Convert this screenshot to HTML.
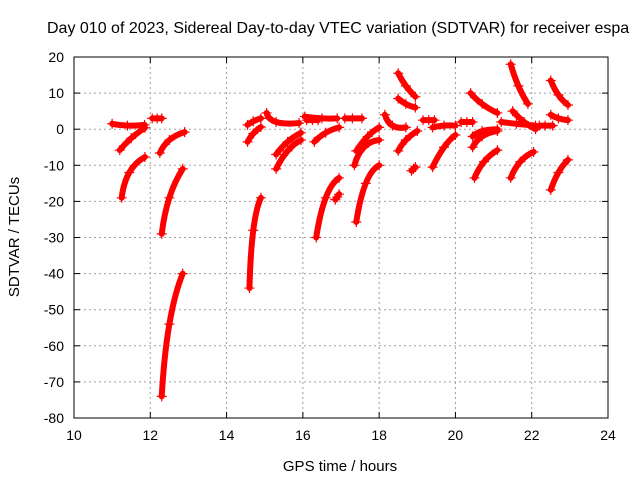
<!DOCTYPE html>
<html><head><meta charset="utf-8"><style>
html,body{margin:0;padding:0;background:#fff;}
svg{display:block;font-family:"Liberation Sans",sans-serif;}
</style></head><body>
<svg id="c" width="640" height="480"></svg>
<script>
const xTicks=[10,12,14,16,18,20,22,24];
const yTicks=[20,10,0,-10,-20,-30,-40,-50,-60,-70,-80];
const arcT=[
[11.0,11.4,11.85],[11.2,11.5,11.86],[11.25,11.45,11.86],[12.05,12.18,12.3],
[12.25,12.5,12.9],[12.3,12.5,12.85],[12.3,12.5,12.85],
[14.55,14.7,14.9],[14.55,14.7,14.9],[14.6,14.7,14.9],
[15.05,15.3,15.9],[15.3,15.6,15.95],[15.3,15.6,15.95],[16.1,16.25,16.4],
[16.05,16.5,16.9],[16.3,16.6,16.95],[17.1,17.3,17.55],[17.35,17.6,18.0],[17.4,17.7,18.0],
[16.35,16.6,16.95],[16.85,16.9,16.95],[17.4,17.65,18.0],
[18.5,18.7,18.95],[18.5,18.7,18.95],[18.15,18.35,18.7],[18.5,18.7,19.0],[18.85,18.9,18.95],
[19.15,19.3,19.45],[19.4,19.7,20.0],[19.4,19.7,20.0],[20.15,20.3,20.45],
[20.4,20.7,21.1],[20.45,20.7,21.1],[20.45,20.7,21.1],[20.5,20.75,21.1],
[21.45,21.65,21.9],[21.2,21.6,22.1],[21.5,21.8,22.1],[22.2,22.35,22.55],[21.45,21.7,22.05],
[22.5,22.7,22.95],[22.5,22.7,22.95],[22.5,22.7,22.95]
];
const arcV=[
[1.5,1.0,1.2],[-5.8,-2.5,0.4],[-19,-12,-7.7],[3,3,3],
[-6.6,-3,-0.8],[-29,-19,-11],[-74,-54,-40],
[1.2,2.2,3],[-3.5,-1.2,0.6],[-44,-28,-19],
[4.5,2,1.7],[-11,-6,-3],[-7,-3.5,-1],[2.5,2.5,2.5],
[3.5,3,3],[-3.5,-1,0.5],[3,3,3],[-10,-5,-3],[-6,-2,0.5],
[-30,-19,-13.5],[-19.5,-18.8,-18],[-25.7,-15,-10],
[15.5,12,9],[8.5,7,6],[4,1,0.5],[-6,-3,-0.5],[-11.5,-11,-10.5],
[2.5,2.5,2.5],[0.5,1,1],[-10.5,-5,-1.6],[2,2,2],
[10,7,4.5],[-5,-2,-0.5],[-2,-0.5,0],[-13.5,-9,-5.8],
[18,12,7],[2,1.5,1],[5,2,0],[1,1,1],[-13.5,-9,-6.3],
[13.5,9.5,6.7],[4,3,2.5],[-16.8,-12,-8.5]
];
const L=74,R=608,T=57,B=418;
const xs=t=>L+(t-10)*(R-L)/14;
const ys=v=>T+(20-v)*(B-T)/100;
const NS="http://www.w3.org/2000/svg";
const svg=document.getElementById('c');
function mk(tag,at,txt){const e=document.createElementNS(NS,tag);for(const k in at)e.setAttribute(k,at[k]);if(txt!==undefined)e.textContent=txt;svg.appendChild(e);return e;}
xTicks.forEach(t=>{
 const x=xs(t);
 if(t>10&&t<24){const g=mk('line',{x1:x,y1:T,x2:x,y2:B,stroke:'#a0a0a0','stroke-dasharray':'2,3'});
 
 }
 const lb=mk('text',{x:x,y:B+22,'text-anchor':'middle','font-size':'14',fill:'#000'},String(t));
 
 
 mk('line',{x1:x,y1:B,x2:x,y2:B-6,stroke:'#000'});mk('line',{x1:x,y1:T,x2:x,y2:T+6,stroke:'#000'});
});
yTicks.forEach(v=>{
 const y=ys(v);
 if(v<20&&v>-80){const g=mk('line',{x1:L,y1:y,x2:R,y2:y,stroke:'#a0a0a0','stroke-dasharray':'2,3'});
 
 }
 const lb=mk('text',{x:L-10,y:y+5,'text-anchor':'end','font-size':'14',fill:'#000'},String(v));
 
 
 mk('line',{x1:L,y1:y,x2:L+6,y2:y,stroke:'#000'});mk('line',{x1:R,y1:y,x2:R-6,y2:y,stroke:'#000'});
});
arcT.forEach((ts,i)=>{
 const vs=arcV[i];
 const P=ts.map((t,j)=>[xs(t),ys(vs[j])]);
 const cx=2*P[1][0]-(P[0][0]+P[2][0])/2, cy=2*P[1][1]-(P[0][1]+P[2][1])/2;
 const p=mk('path',{d:`M${P[0][0]},${P[0][1]}Q${cx},${cy} ${P[2][0]},${P[2][1]}`,fill:'none',stroke:'#f00','stroke-width':'6','stroke-linecap':'round'});
 
 
 P.forEach(([x,y])=>{
  const m=mk('path',{d:`M${x-5},${y}H${x+5}M${x},${y-5}V${y+5}`,stroke:'#f00','stroke-width':'1.2'});
  
  
 });
});
const fr=mk('rect',{x:L,y:T,width:R-L,height:B-T,fill:'none',stroke:'#000'});


</script>
<svg width="640" height="480" style="position:absolute;left:0;top:0">
<text x="47" y="33" font-size="16" font-family="Liberation Sans, sans-serif">Day 010 of 2023, Sidereal Day-to-day VTEC variation (SDTVAR) for receiver espa</text>
<text x="340" y="471" font-size="15" text-anchor="middle" font-family="Liberation Sans, sans-serif">GPS time / hours</text>
<text transform="translate(19,237) rotate(-90)" font-size="15" text-anchor="middle" font-family="Liberation Sans, sans-serif">SDTVAR / TECUs</text>
</svg>
</body></html>
